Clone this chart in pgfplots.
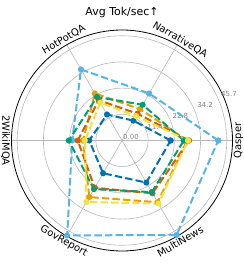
\documentclass[border=0pt]{standalone}
\usepackage{pgfplots}
\pgfplotsset{compat=1.18}
\usepgfplotslibrary{polar}
\usepackage{fontspec}
\setmainfont{DejaVu Sans}
\definecolor{cSky}{HTML}{56B4E9}
\definecolor{cBlue}{HTML}{0072B2}
\definecolor{cGreen}{HTML}{009E73}
\definecolor{cOrange}{HTML}{E69F00}
\definecolor{cVerm}{HTML}{D55E00}
\definecolor{cYellow}{HTML}{F0E442}
\definecolor{gridc}{HTML}{B8B8B8}
\definecolor{tickc}{HTML}{808080}
\begin{document}
\begin{tikzpicture}
\useasboundingbox (-122bp,-127.5bp) rectangle (122bp,140.5bp);
\begin{polaraxis}[
 at={(0,0)}, anchor=center,
 width=221bp, height=221bp, scale only axis,
 xmin=0, xmax=360, ymin=0, ymax=48.2,
 xtick={0,60,120,180,240,300}, xticklabels={},
 ytick={11.425,22.85,34.275,45.7}, yticklabels={},
 major tick length=0,
 grid=major,
 major grid style={draw=gridc, line width=0.6bp},
 separate axis lines,
 x axis line style={black, line width=0.8bp},
 y axis line style={draw=none},
 clip=false,
 every axis plot/.append style={line width=2bp, dash pattern=on 7.4bp off 3.2bp, mark=*, mark size=2bp, mark options={solid}},
]
\node[font=\fontsize{7}{8}\selectfont, text=tickc, anchor=south west, inner sep=1bp] at (axis cs:22.5,0) {0.00};
\node[font=\fontsize{7}{8}\selectfont, text=tickc, anchor=south west, inner sep=1bp] at (axis cs:22.5,11.425) {11.4};
\node[font=\fontsize{7}{8}\selectfont, text=tickc, anchor=south west, inner sep=1bp] at (axis cs:23,23.4) {22.8};
\node[font=\fontsize{7}{8}\selectfont, text=tickc, anchor=south west, inner sep=1bp] at (axis cs:23,35.1) {34.2};
\node[font=\fontsize{7}{8}\selectfont, text=tickc, anchor=south west, inner sep=1bp] at (axis cs:23.5,46.6) {45.7};
\addplot[color=cSky] coordinates {(0,42.0) (60,23.7) (120,35.8) (180,21.7) (240,47.8) (300,47.6) (360,42.0)};
\addplot[color=cBlue] coordinates {(0,21.2) (60,10.0) (120,13.1) (180,14.3) (240,16.5) (300,21.2) (360,21.2)};
\addplot[color=cOrange] coordinates {(0,28.5) (60,15.8) (120,23.7) (180,17.0) (240,28.5) (300,31.1) (360,28.5)};
\addplot[color=cVerm] coordinates {(0,29.2) (60,13.5) (120,20.3) (180,19.3) (240,23.8) (300,26.6) (360,29.2)};
\addplot[color=cGreen] coordinates {(0,27.0) (60,18.0) (120,21.9) (180,23.2) (240,24.5) (300,26.0) (360,27.0)};
\addplot[color=cYellow] coordinates {(0,28.8) (60,12.3) (120,19.0) (180,16.2) (240,31.0) (300,31.8) (360,28.8)};
\node[font=\fontsize{10}{12}\selectfont, rotate=90] at (axis cs:0,50.8) {Qasper};
\node[font=\fontsize{10}{12}\selectfont, rotate=-30] at (axis cs:60,50.8) {NarrativeQA};
\node[font=\fontsize{10}{12}\selectfont, rotate=30] at (axis cs:120,50.8) {HotPotQA};
\node[font=\fontsize{10}{12}\selectfont, rotate=-90] at (axis cs:180,50.8) {2WikiMQA};
\node[font=\fontsize{10}{12}\selectfont, rotate=-30] at (axis cs:240,50.8) {GovReport};
\node[font=\fontsize{10}{12}\selectfont, rotate=30] at (axis cs:300,50.8) {MultiNews};
\end{polaraxis}
\node[anchor=base, font=\fontsize{11}{13}\selectfont] at (0,124.5bp) {Avg Tok/sec↑};
\end{tikzpicture}
\end{document}
